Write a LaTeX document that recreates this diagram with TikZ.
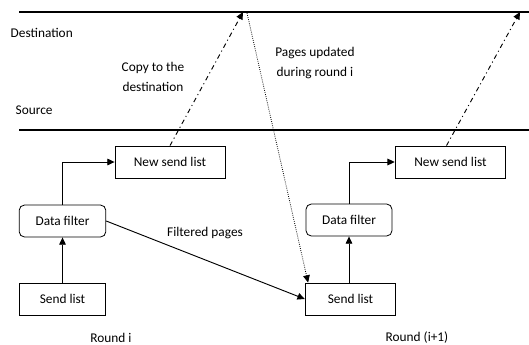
\documentclass[tikz,border=0pt]{standalone}
\usepackage{fontspec}
\setmainfont{Carlito}
\usetikzlibrary{arrows.meta}
\begin{document}
\begin{tikzpicture}[x=0.75pt,y=-0.75pt,
  every node/.style={font=\fontsize{10}{12}\selectfont},
  box/.style={draw,line width=0.6pt,minimum height=24pt,inner sep=0pt},
  lbl/.style={align=center},
  conn/.style={line width=0.7pt,-{Triangle[length=5.5pt,width=5pt]}},
  dashdot/.style={line width=0.7pt,dash pattern=on 3.5pt off 2.5pt on 0.8pt off 2.5pt,-{Triangle[length=5.5pt,width=5pt]}},
  dotline/.style={line width=0.6pt,densely dotted,-{Triangle[length=5.5pt,width=5pt]}},
  sep/.style={line width=0.8pt}]
\useasboundingbox (0,0) rectangle (529,344);
% separator lines
\coordinate (t1) at (19,12);
\coordinate (t2) at (529,12);
\coordinate (s1) at (19,130);
\coordinate (s2) at (529,130);
\draw[sep] (t1) -- (t2);
\draw[sep] (s1) -- (s2);
\node[anchor=west] (dest) at (6,33) {Destination};
\node[anchor=west] (src) at (11,110) {Source};
\node[lbl] (copy) at (153,77) {Copy to the\\[3pt]destination};
\node[lbl] (upd) at (315,63) {Pages updated\\[3pt]during round i};
% boxes round i
\node[box,minimum width=82.5pt] (nsl1) at (170,162) {New send list};
\node[box,rounded corners=4pt,minimum width=65pt] (df1) at (62.5,221) {Data filter};
\node[box,minimum width=65pt] (sl1) at (62.5,299) {Send list};
% boxes round i+1
\node[box,minimum width=83pt] (nsl2) at (450.5,162) {New send list};
\node[box,rounded corners=4pt,minimum width=64.5pt] (df2) at (349,220) {Data filter};
\node[box,minimum width=68pt] (sl2) at (350.5,299) {Send list};
\node (r1) at (111,338) {Round i};
\node (r2) at (417,338) {Round (i+1)};
\node (fp) at (205,233) {Filtered pages};
% connectors
\draw[conn] (sl1) -- (df1);
\draw[conn] (sl2.north -| df2) -- (df2);
\draw[conn] (df1.north) |- (nsl1.west);
\draw[conn] (df2.north) |- (nsl2.west);
\draw[conn] (df1.east) -- (sl2.west);
\coordinate (p1) at (243,12);
\coordinate (p2) at (247,13);
\coordinate (p3) at (520,12);
\draw[dashdot] (nsl1.north) -- (p1);
\draw[dashdot] ([xshift=-3pt]nsl2.north) -- (p3);
\draw[dotline] (p2) -- ([xshift=2.5pt]sl2.north west);
\end{tikzpicture}
\end{document}
